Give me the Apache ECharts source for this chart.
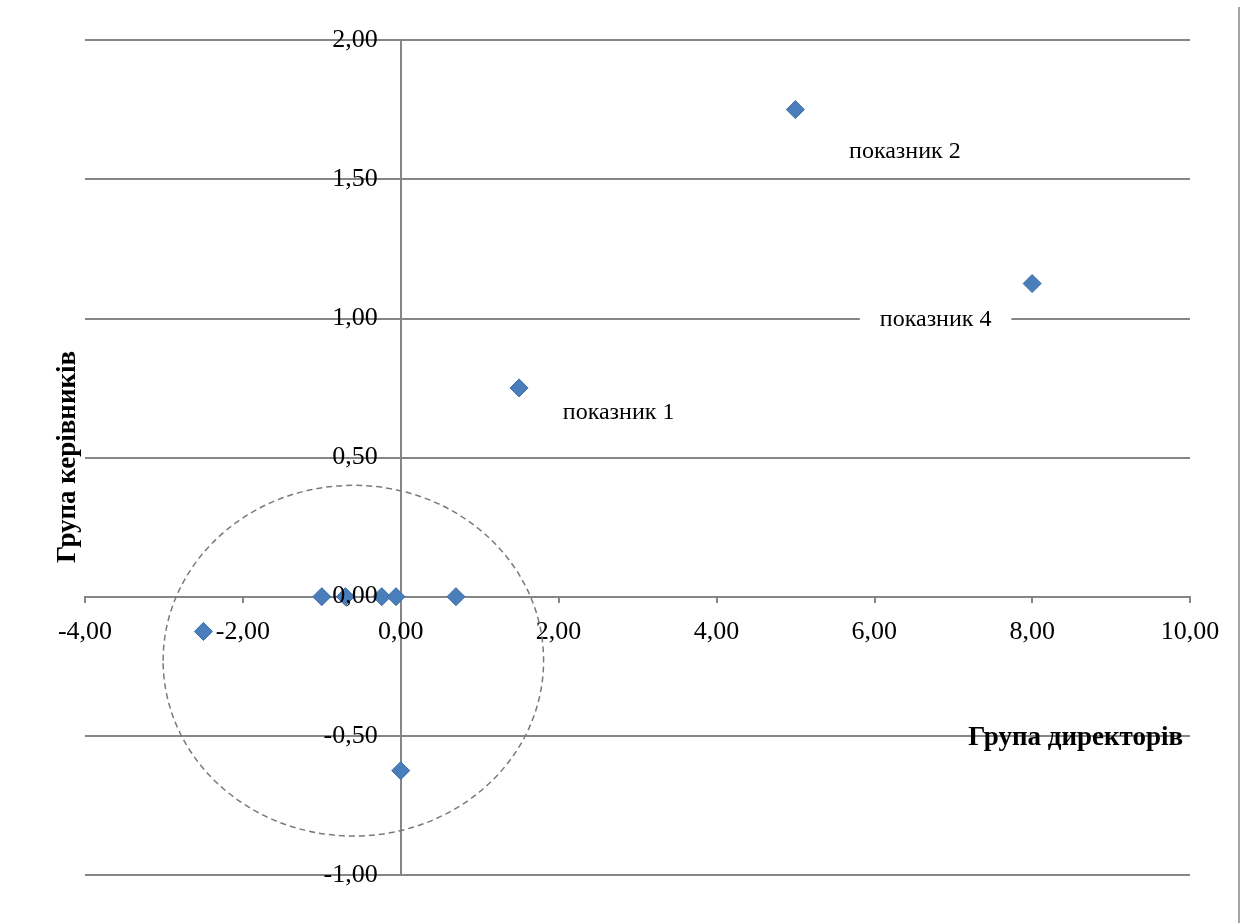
<!DOCTYPE html>
<html>
<head>
<meta charset="utf-8">
<script src="https://cdn.jsdelivr.net/npm/echarts@6/dist/echarts.min.js"></script>
<style>
  html, body { margin: 0; padding: 0; background: #fff; }
  #chart { width: 1241px; height: 923px; }
</style>
</head>
<body>
<div id="chart"></div>
<script>
// Scores of each indicator for the two groups
const directorScores = [5.0, 8.0, 1.5, -2.5, 0.0, -1.0, -0.7, -0.24, -0.06, 0.7];
const managerScores  = [1.75, 1.125, 0.75, -0.125, -0.625, 0, 0, 0, 0, 0];
const pointNames     = ['показник 2', 'показник 4', 'показник 1', '', '', '', '', '', '', ''];

// Axis ranges
const xRange = { min: -4, max: 10, interval: 2 };
const yRange = { min: -1, max: 2, interval: 0.5 };

const xTitle = 'Група директорів';
const yTitle = 'Група керівників';

const FONT = "'Liberation Serif', 'Times New Roman', serif";
const GRID_COLOR = '#868686';
const GRID = { left: 85, right: 51, top: 40, bottom: 48 };
const SYMBOL_SIZE = 18;
const fmt = v => v.toFixed(2).replace('.', ',');

// Label placement (centre of text relative to the marker centre)
const labelStyles = {
  'показник 2': { shift: [110, 43] },
  'показник 4': { shift: [-96, 37], backgroundColor: '#fff', padding: [6, 20] },
  'показник 1': { shift: [100, 25] }
};

const points = directorScores.map((x, i) => {
  const name = pointNames[i];
  const item = { value: [x, managerScores[i]], name: name };
  if (name) {
    const s = labelStyles[name];
    item.label = {
      show: true,
      position: [SYMBOL_SIZE / 2 + s.shift[0], SYMBOL_SIZE / 2 + s.shift[1]],
      align: 'center',
      verticalAlign: 'middle',
      formatter: '{b}',
      color: '#000',
      textBorderWidth: 0,
      fontFamily: FONT,
      fontSize: 24,
      backgroundColor: s.backgroundColor || 'transparent',
      padding: s.padding || 0
    };
  }
  return item;
});

const chart = echarts.init(document.getElementById('chart'), null, { renderer: 'canvas' });

function buildOption(xOffset, yOffset) {
  return {
    animation: false,
    backgroundColor: '#fff',
    grid: Object.assign({ containLabel: false }, GRID),
    xAxis: {
      type: 'value',
      position: 'bottom',
      offset: xOffset,
      min: xRange.min, max: xRange.max, interval: xRange.interval,
      // the horizontal line at zero comes from the value grid lines
      axisLine: { show: false, onZero: false },
      axisTick: { show: true, length: 7, lineStyle: { color: GRID_COLOR, width: 2 } },
      axisLabel: { margin: 23, formatter: fmt, color: '#000', fontFamily: FONT, fontSize: 26 },
      splitLine: { show: false }
    },
    yAxis: [
      {
        type: 'value',
        position: 'left',
        offset: yOffset,
        min: yRange.min, max: yRange.max, interval: yRange.interval,
        axisLine: { show: true, onZero: false, lineStyle: { color: GRID_COLOR, width: 2 } },
        axisTick: { show: true, length: 7, lineStyle: { color: GRID_COLOR, width: 2 } },
        axisLabel: { show: false },
        splitLine: { show: true, lineStyle: { color: GRID_COLOR, width: 2 } }
      },
      {
        // tick labels drawn above the markers
        type: 'value',
        position: 'left',
        offset: yOffset,
        z: 5,
        min: yRange.min, max: yRange.max, interval: yRange.interval,
        axisLine: { show: false, onZero: false },
        axisTick: { show: false },
        axisLabel: { margin: 23, formatter: fmt, color: '#000', fontFamily: FONT, fontSize: 26 },
        splitLine: { show: false }
      }
    ],
    series: [{
      type: 'scatter',
      yAxisIndex: 0,
      symbol: 'diamond',
      symbolSize: SYMBOL_SIZE,
      itemStyle: { color: '#4A7EBB', borderColor: '#3D6DA6', borderWidth: 1, opacity: 1 },
      label: { show: false },
      data: points
    }]
  };
}

chart.setOption(buildOption(0, 0));

// Move both axes so that they cross at the origin
const origin = chart.convertToPixel({ gridIndex: 0 }, [0, 0]);
const gridBottom = chart.getHeight() - GRID.bottom;
const xOffset = -(gridBottom - origin[1]);
const yOffset = -(origin[0] - GRID.left);
chart.setOption(buildOption(xOffset, yOffset));

// Dashed ellipse around the cluster of indicators near the origin
const clusterCenter = [-0.6, -0.23];
const clusterRadius = [2.41, 0.63];
const c = chart.convertToPixel({ gridIndex: 0 }, clusterCenter);
const e = chart.convertToPixel({ gridIndex: 0 }, [clusterCenter[0] + clusterRadius[0], clusterCenter[1] + clusterRadius[1]]);

chart.setOption({
  graphic: [
    {
      type: 'ellipse',
      z: 1,
      silent: true,
      shape: { cx: c[0], cy: c[1], rx: Math.abs(e[0] - c[0]), ry: Math.abs(e[1] - c[1]) },
      style: { fill: 'none', stroke: '#7a7a7a', lineWidth: 1.5, lineDash: [6, 4] }
    },
    {
      type: 'text',
      z: 10,
      style: {
        text: xTitle, x: 1183, y: 738, align: 'right', verticalAlign: 'middle',
        font: "bold 27px 'Liberation Serif', 'Times New Roman', serif", fill: '#000'
      }
    },
    {
      type: 'text',
      z: 10,
      x: 68, y: 457,
      rotation: Math.PI / 2,
      style: {
        text: yTitle, x: 0, y: 0, align: 'center', verticalAlign: 'middle',
        font: "bold 27px 'Liberation Serif', 'Times New Roman', serif", fill: '#000'
      }
    },
    {
      type: 'line',
      z: 1,
      silent: true,
      shape: { x1: 1239, y1: 7, x2: 1239, y2: 923 },
      style: { stroke: '#a6a6a6', lineWidth: 2 }
    }
  ]
});
</script>
</body>
</html>
